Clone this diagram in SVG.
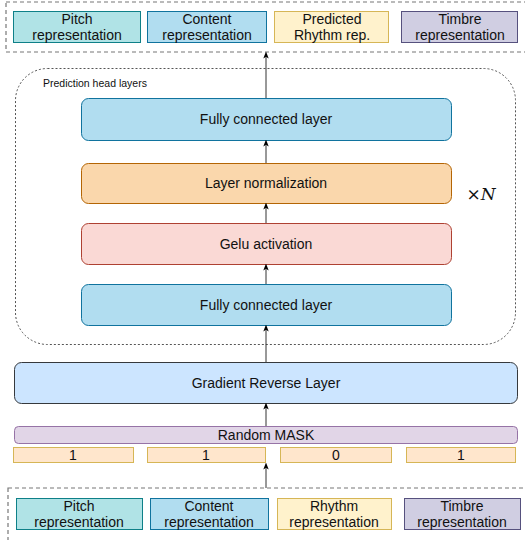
<svg xmlns="http://www.w3.org/2000/svg" width="525" height="540" viewBox="0 0 525 540">
<defs>
<marker id="arr" markerWidth="7" markerHeight="7" refX="3.5" refY="3.5" orient="auto" markerUnits="userSpaceOnUse">
<path d="M0,0.8 L7,3.5 L0,6.2 L1.8,3.5 Z" fill="#000"/>
</marker>
<style>
text{font-family:"Liberation Sans",Arial,sans-serif;fill:#111;text-anchor:middle}
.rep{font-size:14px}
.lay{font-size:14px}
.grp{fill:none;stroke:#777;stroke-width:1.2;stroke-dasharray:4 3}
.pitch{fill:#b0e3e6;stroke:#0e8088}
.content{fill:#b1ddf0;stroke:#10739e}
.rhythm{fill:#fff2cc;stroke:#d6b656}
.timbre{fill:#d0cee2;stroke:#56517e}
.fc{fill:#b1ddf0;stroke:#10739e}
.ln{fill:#fad7ac;stroke:#b46504}
.gelu{fill:#fad9d5;stroke:#ae4132}
.grl{fill:#cce5ff;stroke:#36393d}
.mask{fill:#e1d5e7;stroke:#9673a6}
.cell{fill:#ffe6cc;stroke:#d6b656}
.edge{stroke:#333;stroke-width:1;fill:none;marker-end:url(#arr)}
</style>
</defs>
<rect width="525" height="540" fill="#fff"/>

<g id="output-group">
<rect class="grp" x="6" y="2" width="530" height="50"/>
</g>
<g id="out-pitch"><rect class="pitch" x="13.5" y="11.5" width="127" height="31"/><text class="rep" x="77" y="24">Pitch</text><text class="rep" x="77" y="40">representation</text></g>
<g id="out-content"><rect class="content" x="147.5" y="11.5" width="119" height="31"/><text class="rep" x="207" y="24">Content</text><text class="rep" x="207" y="40">representation</text></g>
<g id="out-rhythm"><rect class="rhythm" x="274.5" y="11.5" width="114" height="31"/><text class="rep" x="332" y="24">Predicted</text><text class="rep" x="332" y="40">Rhythm rep.</text></g>
<g id="out-timbre"><rect class="timbre" x="401.5" y="11.5" width="116" height="31"/><text class="rep" x="460" y="24">Timbre</text><text class="rep" x="460" y="40">representation</text></g>

<g id="prediction-head">
<rect x="15.5" y="68.5" width="500" height="276" rx="32" ry="32" fill="none" stroke="#555" stroke-width="1" stroke-dasharray="2 2"/>
<text x="43" y="87" style="font-size:10.5px;text-anchor:start">Prediction head layers</text>
<text x="481" y="200" style="font-family:'DejaVu Serif','Liberation Serif',serif;font-size:17px;font-style:italic"><tspan style="font-style:normal">×</tspan>N</text>
</g>
<g id="fc-top"><rect class="fc" x="81.5" y="98.5" width="370" height="42" rx="7"/><text class="lay" x="266" y="124">Fully connected layer</text></g>
<g id="layer-norm"><rect class="ln" x="81.5" y="163.5" width="370" height="40" rx="7"/><text class="lay" x="266" y="188">Layer normalization</text></g>
<g id="gelu"><rect class="gelu" x="81.5" y="223.5" width="370" height="41" rx="7"/><text class="lay" x="266" y="249">Gelu activation</text></g>
<g id="fc-bottom"><rect class="fc" x="81.5" y="284.5" width="370" height="41" rx="7"/><text class="lay" x="266" y="310">Fully connected layer</text></g>

<g id="grl"><rect class="grl" x="14.5" y="362.5" width="503" height="41" rx="7"/><text class="lay" x="266" y="388">Gradient Reverse Layer</text></g>
<g id="random-mask"><rect class="mask" x="14.5" y="426.5" width="503" height="17" rx="4"/><text class="lay" x="266" y="440">Random MASK</text></g>
<g id="mask-cells">
<rect class="cell" x="13.5" y="447.5" width="120" height="15"/><text class="lay" x="73" y="460">1</text>
<rect class="cell" x="147.5" y="447.5" width="118" height="15"/><text class="lay" x="206" y="460">1</text>
<rect class="cell" x="280.5" y="447.5" width="111" height="15"/><text class="lay" x="336" y="460">0</text>
<rect class="cell" x="406.5" y="447.5" width="109" height="15"/><text class="lay" x="461" y="460">1</text>
</g>

<g id="input-group">
<rect class="grp" x="8" y="488" width="530" height="60"/>
</g>
<g id="in-pitch"><rect class="pitch" x="16.5" y="498.5" width="126" height="31"/><text class="rep" x="79" y="511">Pitch</text><text class="rep" x="79" y="527">representation</text></g>
<g id="in-content"><rect class="content" x="150.5" y="498.5" width="118" height="31"/><text class="rep" x="209" y="511">Content</text><text class="rep" x="209" y="527">representation</text></g>
<g id="in-rhythm"><rect class="rhythm" x="277.5" y="498.5" width="114" height="31"/><text class="rep" x="334" y="511">Rhythm</text><text class="rep" x="334" y="527">representation</text></g>
<g id="in-timbre"><rect class="timbre" x="404.5" y="498.5" width="116" height="31"/><text class="rep" x="462" y="511">Timbre</text><text class="rep" x="462" y="527">representation</text></g>

<g id="connectors">
<line class="edge" x1="266" y1="488" x2="266" y2="466"/>
<line class="edge" x1="266" y1="426" x2="266" y2="406"/>
<line class="edge" x1="266" y1="362" x2="266" y2="328"/>
<line class="edge" x1="266" y1="284" x2="266" y2="267"/>
<line class="edge" x1="266" y1="223" x2="266" y2="206"/>
<line class="edge" x1="266" y1="163" x2="266" y2="143"/>
<line class="edge" x1="266" y1="98" x2="266" y2="55"/>
</g>
</svg>
